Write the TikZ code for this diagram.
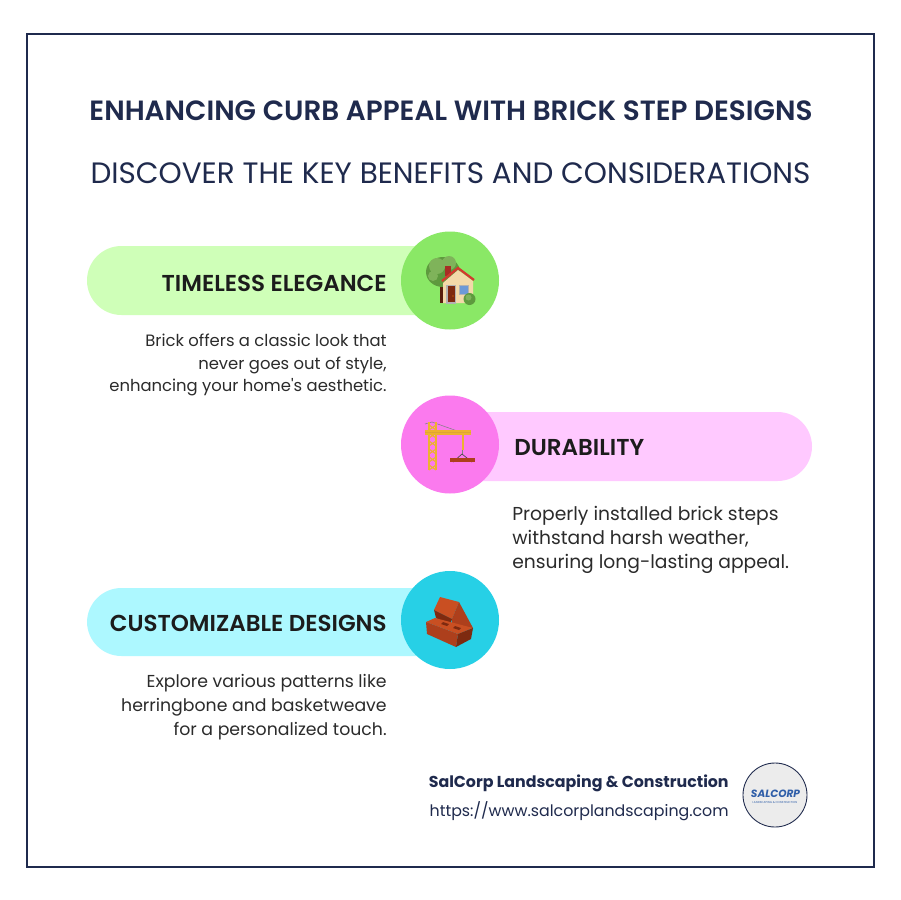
\documentclass[tikz,border=0pt]{standalone}
\usepackage{fontspec}
\setmainfont{Poppins}
\newfontfamily\semifont{Poppins SemiBold}
\usetikzlibrary{calc}
\definecolor{navy}{HTML}{1F2A4D}
\definecolor{ink}{HTML}{1C1C1C}
\definecolor{body}{HTML}{2B2B2B}
\definecolor{greenbar}{HTML}{CFFFB8}
\definecolor{greendot}{HTML}{8AE866}
\definecolor{pinkbar}{HTML}{FFC9FF}
\definecolor{pinkdot}{HTML}{FB7AEE}
\definecolor{cyanbar}{HTML}{ADF8FF}
\definecolor{cyandot}{HTML}{27D0E6}
\definecolor{brick}{HTML}{AD3F1C}
\definecolor{brickdark}{HTML}{7E2A10}
\definecolor{bricklight}{HTML}{C94F22}
\definecolor{crane}{HTML}{EDB22F}
\definecolor{logoblue}{HTML}{2F5EA8}
\definecolor{leaf}{HTML}{5E9A3E}
\definecolor{leaflight}{HTML}{7FB35A}
\definecolor{wall}{HTML}{F3D9A9}
\definecolor{roof}{HTML}{D23A2E}
\tikzset{
  headtext/.style={text=ink,inner sep=0pt,font=\fontsize{13.1}{15}\semifont},
  bodytext/.style={text=body,inner sep=0pt},
}
\begin{document}
\begin{tikzpicture}[x=0.02cm,y=-0.02cm]
\useasboundingbox (0,0) rectangle (900,900);
\fill[white] (0,0) rectangle (900,900);
\draw[navy,line width=1.2pt] (27,34) rectangle (874,867);
%%%%
\node[navy,font=\fontsize{15.85}{17}\semifont] (title) at (451,111) {ENHANCING CURB APPEAL WITH BRICK STEP DESIGNS};
\node[navy,font=\fontsize{16.77}{17}\selectfont] (subtitle) at (450.5,173) {DISCOVER THE KEY BENEFITS AND CONSIDERATIONS};
%%%%
\fill[greenbar,rounded corners=0.69cm] (87,246) rectangle (480,315);
\fill[greendot] (450,280.5) coordinate (G) circle (49);
\fill[pinkbar,rounded corners=0.69cm] (420,412) rectangle (812,481);
\fill[pinkdot] (450,444.5) coordinate (P) circle (49);
\fill[cyanbar,rounded corners=0.69cm] (87,588) rectangle (480,656);
\fill[cyandot] (450,620) coordinate (C) circle (49);
%%%%
\node[headtext,anchor=east] (elegance) at (387,283.5) {TIMELESS ELEGANCE};
\node[headtext,anchor=west] (durability) at (514,447.5) {DURABILITY};
\node[headtext,anchor=east] (designs) at (387,623.5) {CUSTOMIZABLE DESIGNS};
%
\node[bodytext,anchor=north east,align=right,font=\fontsize{9.35}{12.6}\selectfont] (eleganceText) at (387,334) {Brick offers a classic look that\\never goes out of style,\\enhancing your home\textquotesingle s aesthetic.};
\node[bodytext,anchor=north west,align=left,font=\fontsize{10.65}{13.9}\selectfont] (durabilityText) at (512,505.5) {Properly installed brick steps\\withstand harsh weather,\\ensuring long-lasting appeal.};
\node[bodytext,anchor=north east,align=right,font=\fontsize{9.85}{13.7}\selectfont] (designsText) at (387,673.5) {Explore various patterns like\\herringbone and basketweave\\for a personalized touch.};
%%%Tree and house
\fill[brickdark!70!black] (440,283) rectangle (445,303);
\fill[leaf] (443,272) ellipse (17 and 15);
\fill[leaflight] (437,266) circle (8) (449,263) circle (7) (433,276) circle (5);
\fill[roof!80!black] (445,266) rectangle (451,276);
\fill[wall] (443,283) -- (458,270) -- (473,281) -- (473,303) -- (443,303) -- cycle;
\draw[roof,line width=1.3pt] (442,281) -- (458,268) -- (474,280);
\fill[gray!60] (446,285) rectangle (456,304);
\fill[brickdark] (447.5,286) rectangle (454.5,302);
\fill[orange] (453,296) circle (0.6);
\fill[gray!60] (459,285) rectangle (469,295);
\fill[cyan!50!blue!60] (460,286) rectangle (468,294);
\fill[leaf] (469.5,299) circle (6);
\fill[leaflight] (468.5,297.5) circle (3);
%%%Crane
\draw[gray,line width=0.3pt] (425,424) -- (432,422) -- (463,433);
\draw[crane,line width=1.5pt] (429,422) -- (429,470) (436,422) -- (436,470);
\foreach \y in {425,433,441,449,457,465}{
  \draw[crane,line width=0.6pt] (429,\y) -- (436,\y+5) (436,\y) -- (429,\y+5);
}
\draw[crane,line width=2.6pt] (425,432.5) -- (471,432.5);
\draw[crane!70!brown,line width=0.5pt] (425,432.5) -- (471,432.5);
\draw[gray,line width=0.5pt] (462,435) -- (462,455);
\draw[crane,line width=1pt] (463,435) -- (463,450);
\draw[black!70,line width=0.4pt] (453,462) -- (462,454) -- (472,462);
\fill[brick] (450,458) rectangle (475,462);
%%%Bricks
\fill[bricklight] (434,610) -- (440,597) -- (459,602) -- (452,619) -- cycle;
\fill[brick] (459,602) -- (473,628) -- (452,628) -- (452,619) -- cycle;
\fill[brickdark] (434,610) -- (452,619) -- (450,626) -- (436,618) -- cycle;
\fill[bricklight] (426,622) -- (435,618) -- (473,628) -- (458,634) -- cycle;
\fill[brick] (426,622) -- (458,634) -- (456,647) -- (427,634) -- cycle;
\fill[brickdark] (458,634) -- (473,628) -- (471,639) -- (456,647) -- cycle;
\fill[brickdark] (443,622) -- (449,624) -- (447,626) -- (441,624) -- cycle;
\fill[brickdark] (455,626) -- (461,628) -- (459,630) -- (453,628) -- cycle;
%%%Footer
\node[navy,anchor=east,inner sep=0pt,font=\fontsize{9}{11}\selectfont\bfseries] (company) at (729,783) {SalCorp Landscaping \& Construction};
\node[navy,anchor=east,inner sep=0pt,font=\fontsize{9}{11}\selectfont] (website) at (729,811) {https://www.salcorplandscaping.com};
\draw[navy,fill=gray!15,line width=0.5pt] (775,795) coordinate (L) circle (32);
\node[logoblue,inner sep=0pt,font=\fontsize{6}{6}\selectfont\bfseries\itshape] (logo) at (775.5,793.5) {SALCORP};
\node[logoblue,inner sep=0pt,font=\fontsize{1.6}{2}\selectfont] (logoline) at (775,803) {LANDSCAPING \& CONSTRUCTION};
\end{tikzpicture}
\end{document}
